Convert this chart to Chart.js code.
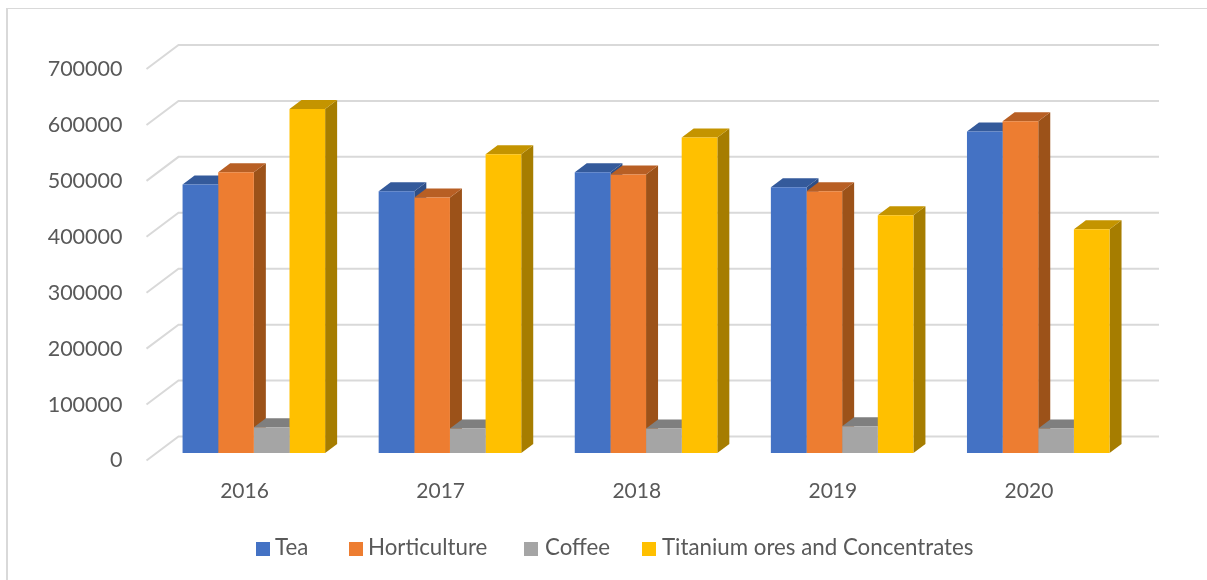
<!DOCTYPE html>
<html>
<head>
<meta charset="utf-8">
<title>Exports 2016-2020</title>
<script src="https://cdn.jsdelivr.net/npm/chart.js@4"></script>
<style>
    body { margin: 0; background: #fff; }
    .wrap { position: relative; width: 1207px; height: 580px; overflow: hidden; }
    .frame { position: absolute; left: 6px; top: 8px; width: 1300px; height: 700px; border: 1px solid #d9d9d9; border-left-width: 2px; }
    canvas { position: absolute; left: 0; top: 0; }
    .legend span { position: absolute; font: 22.3px Lato, sans-serif; color: #595959; line-height: 24px; top: 535px; white-space: nowrap; }
    .legend i { position: absolute; top: 542px; width: 14px; height: 14px; }
</style>
</head>
<body>
<div class="wrap">
    <div class="frame"></div>
    <canvas id="chart" width="1207" height="580"></canvas>
    <div class="legend" id="legend"></div>
</div>
<script>
const years = ["2016", "2017", "2018", "2019", "2020"];
const seriesNames = ["Tea", "Horticulture", "Coffee", "Titanium ores and Concentrates"];
const tea = [480000, 468000, 502000, 475000, 575000];
const horticulture = [502000, 457000, 498000, 468000, 593000];
const coffee = [46000, 44000, 44000, 48000, 44000];
const titanium = [615000, 534000, 564000, 425000, 400000];

const frontColors = ["#4472C4", "#ED7D31", "#A5A5A5", "#FFC000"];
const topColors = ["#345A9B", "#B85F24", "#7F7F7F", "#C49400"];
const sideColors = ["#2E4F88", "#9C5219", "#6E6E6E", "#A67D00"];

// legend box and text x positions
const legendBoxX = [256, 349, 524, 642];
const legendTextX = [275, 368, 545, 662];

// the fake 3D: floor runs 32x24 from front to back, bars stand part way in
const floorDx = 32, floorDy = 24;
const barShiftX = 9.3, barShiftY = 7.5;
const barDx = 12, barDy = 9;

function poly(ctx, color, pts) {
    ctx.fillStyle = color;
    ctx.beginPath();
    ctx.moveTo(pts[0][0], pts[0][1]);
    for (let i = 1; i < pts.length; i++) ctx.lineTo(pts[i][0], pts[i][1]);
    ctx.closePath();
    ctx.fill();
}

const fake3d = {
    id: "fake3d",
    beforeDatasetsDraw(chart) {
        const ctx = chart.ctx, area = chart.chartArea, yScale = chart.scales.y;

        // skewed gridlines, from the axis corner to the back wall
        ctx.save();
        ctx.strokeStyle = "#d9d9d9";
        ctx.lineWidth = 2;
        yScale.ticks.forEach(t => {
            const y = yScale.getPixelForValue(t.value);
            ctx.beginPath();
            ctx.moveTo(area.left, y);
            ctx.lineTo(area.left + floorDx, y - floorDy);
            ctx.lineTo(area.right + floorDx, y - floorDy);
            ctx.stroke();
        });
        ctx.restore();

        // bars sit on the middle of the floor, restored in afterDatasetsDraw
        ctx.save();
        ctx.translate(barShiftX, -barShiftY);

        // sides first, then tops, the library paints the fronts over them
        chart.data.datasets.forEach((ds, i) => {
            chart.getDatasetMeta(i).data.forEach(bar => {
                const p = bar.getProps(["x", "y", "base", "width"], true);
                const r = p.x + p.width / 2;
                poly(ctx, sideColors[i], [[r, p.y], [r + barDx, p.y - barDy], [r + barDx, p.base - barDy], [r, p.base]]);
            });
        });
        chart.data.datasets.forEach((ds, i) => {
            chart.getDatasetMeta(i).data.forEach(bar => {
                const p = bar.getProps(["x", "y", "base", "width"], true);
                const l = p.x - p.width / 2, r = p.x + p.width / 2;
                poly(ctx, topColors[i], [[l, p.y], [r, p.y], [r + barDx, p.y - barDy], [l + barDx, p.y - barDy]]);
            });
        });
    },
    afterDatasetsDraw(chart) {
        chart.ctx.restore();
    }
};

new Chart(document.getElementById("chart"), {
    type: "bar",
    data: {
        labels: years,
        datasets: [tea, horticulture, coffee, titanium].map((values, i) => ({
            label: seriesNames[i],
            data: values,
            backgroundColor: frontColors[i],
            barPercentage: 1,
            categoryPercentage: 0.727,
            clip: false
        }))
    },
    options: {
        responsive: false,
        animation: false,
        layout: { padding: { top: 69, right: 80, bottom: 0, left: 0 } },
        plugins: { legend: { display: false }, tooltip: { enabled: false } },
        scales: {
            x: {
                grid: { display: false },
                border: { display: false },
                ticks: { color: "#595959", font: { family: "Lato", size: 21 }, padding: 10 },
                afterFit(scale) { scale.height = 119.5; }
            },
            y: {
                min: 0,
                max: 700000,
                grid: { display: false },
                border: { display: false },
                ticks: {
                    stepSize: 100000,
                    color: "#595959",
                    font: { family: "Lato", size: 21.5 },
                    padding: 16,
                    callback: v => String(v)
                },
                afterFit(scale) { scale.width = 146.5; }
            }
        }
    },
    plugins: [fake3d]
});

// legend is laid out by hand, the gaps in the original are tighter than the built in one
const legend = document.getElementById("legend");
seriesNames.forEach((name, i) => {
    const box = document.createElement("i");
    box.style.left = legendBoxX[i] + "px";
    box.style.background = frontColors[i];
    const text = document.createElement("span");
    text.style.left = legendTextX[i] + "px";
    text.textContent = name;
    legend.append(box, text);
});
</script>
</body>
</html>
